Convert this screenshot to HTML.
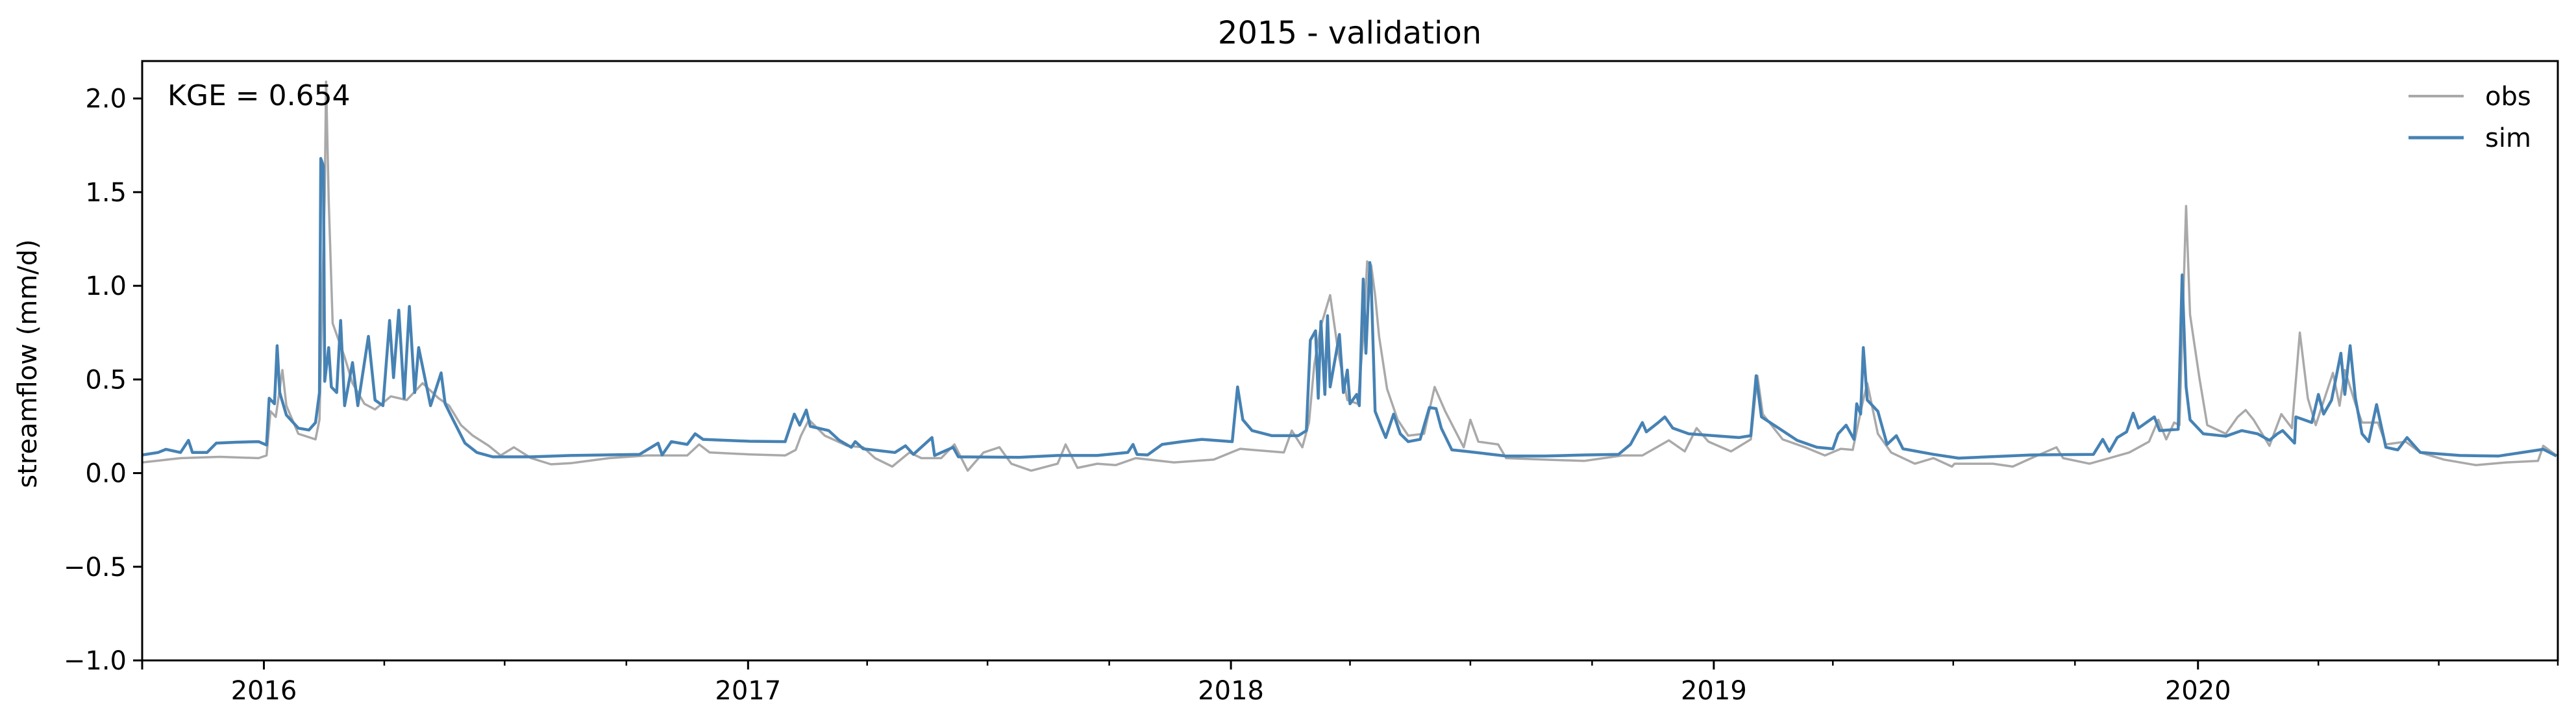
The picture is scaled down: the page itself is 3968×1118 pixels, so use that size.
<!DOCTYPE html>
<html><head><meta charset="utf-8"><style>
html,body{margin:0;padding:0;background:#fff}
svg{display:block}
text{font-family:"DejaVu Sans","Liberation Sans",sans-serif;fill:#000}
</style></head><body>
<svg id="chart" width="3968" height="1118" viewBox="0 0 3968 1118">
<text x="2079" y="67" font-size="48" text-anchor="middle">2015 - validation</text>
<g id="plot"></g>
<g id="axes"></g>
<text x="258" y="162" font-size="44">KGE = 0.654</text>
<g>
<g><line x1="3710" y1="148" x2="3795" y2="148" stroke="#a9a9a9" stroke-width="4"/><text x="3828" y="162" font-size="40">obs</text></g>
<g><line x1="3710" y1="212" x2="3795" y2="212" stroke="#4682b4" stroke-width="5"/><text x="3828" y="226" font-size="40">sim</text></g>
</g>
<text transform="translate(56,560) rotate(-90)" font-size="40" text-anchor="middle">streamflow (mm/d)</text>
</svg>
<script>
// days since 2015-10-01
const obsDays=[0,29,59,88,94,97,101,106,109,118,131,134,138,139,141,144,153,159,168,176,188,200,212,224,232,241,250,262,271,281,294,309,324,353,382,412,421,429,459,486,494,498,504,516,533,545,554,567,580,589,604,614,624,636,648,657,672,692,698,707,722,736,751,780,810,830,839,863,869,877,882,886,891,898,904,911,919,923,926,929,932,935,941,949,957,969,977,985,999,1004,1010,1025,1031,1060,1090,1119,1134,1154,1166,1175,1184,1201,1216,1221,1225,1240,1257,1272,1284,1293,1300,1304,1312,1322,1340,1354,1368,1370,1399,1414,1428,1447,1452,1472,1487,1502,1517,1524,1530,1536,1540,1545,1548,1555,1561,1575,1584,1590,1596,1608,1617,1625,1631,1637,1643,1656,1661,1665,1673,1678,1690,1696,1711,1722,1740,1764,1787,1811,1815,1825];
const obsVals=[0.057,0.08,0.087,0.08,0.094,0.33,0.30,0.55,0.36,0.21,0.18,0.285,1.49,2.09,1.46,0.80,0.62,0.48,0.37,0.34,0.41,0.39,0.48,0.40,0.36,0.256,0.20,0.146,0.094,0.138,0.08,0.047,0.053,0.08,0.094,0.094,0.153,0.11,0.10,0.094,0.124,0.20,0.285,0.20,0.146,0.138,0.08,0.035,0.11,0.08,0.08,0.153,0.013,0.11,0.138,0.05,0.013,0.05,0.153,0.028,0.05,0.043,0.08,0.057,0.072,0.13,0.124,0.11,0.227,0.138,0.27,0.58,0.786,0.95,0.65,0.39,0.37,0.73,1.13,1.11,0.95,0.73,0.45,0.285,0.20,0.21,0.46,0.33,0.138,0.285,0.168,0.153,0.08,0.072,0.065,0.094,0.094,0.175,0.116,0.24,0.168,0.116,0.18,0.52,0.315,0.18,0.138,0.094,0.13,0.124,0.36,0.48,0.21,0.11,0.05,0.08,0.035,0.05,0.05,0.035,0.08,0.138,0.08,0.05,0.08,0.11,0.168,0.285,0.18,0.27,0.256,1.426,0.845,0.51,0.256,0.21,0.30,0.337,0.285,0.146,0.315,0.24,0.75,0.40,0.256,0.535,0.36,0.55,0.37,0.27,0.27,0.153,0.168,0.11,0.072,0.043,0.057,0.065,0.146,0.094];
const simDays=[0,12,18,29,35,38,49,56,71,88,94,96,100,102,104,109,118,126,131,134,135,137,138,141,143,147,150,153,159,163,171,176,182,187,190,194,198,202,206,209,218,226,229,235,244,253,265,294,324,376,390,393,400,412,418,424,459,486,493,497,502,505,519,527,536,539,545,569,577,583,597,599,613,617,663,692,722,745,749,752,760,771,786,801,824,828,832,839,854,874,880,883,887,889,891,894,896,898,905,908,911,913,918,920,923,925,928,929,932,937,940,946,951,957,966,973,978,982,990,1001,1031,1060,1090,1116,1125,1134,1137,1146,1151,1157,1169,1178,1207,1216,1220,1224,1237,1251,1266,1278,1282,1288,1294,1296,1299,1301,1304,1312,1319,1326,1331,1354,1373,1428,1475,1482,1487,1493,1500,1505,1509,1521,1525,1539,1542,1545,1548,1558,1575,1587,1599,1608,1614,1618,1627,1628,1640,1645,1649,1655,1662,1665,1669,1673,1678,1683,1689,1696,1705,1712,1722,1752,1781,1815,1825];
const simVals=[0.097,0.11,0.127,0.11,0.175,0.11,0.11,0.16,0.165,0.168,0.15,0.40,0.37,0.68,0.43,0.31,0.24,0.23,0.27,0.43,1.68,1.64,0.49,0.67,0.46,0.43,0.815,0.36,0.59,0.36,0.73,0.39,0.36,0.815,0.51,0.87,0.40,0.89,0.43,0.67,0.36,0.535,0.37,0.285,0.16,0.11,0.087,0.087,0.094,0.10,0.16,0.097,0.168,0.153,0.21,0.18,0.17,0.168,0.315,0.256,0.337,0.25,0.227,0.175,0.138,0.168,0.13,0.11,0.146,0.10,0.19,0.094,0.138,0.087,0.084,0.094,0.094,0.11,0.153,0.10,0.097,0.153,0.168,0.18,0.168,0.46,0.285,0.227,0.20,0.20,0.227,0.71,0.76,0.40,0.81,0.42,0.84,0.46,0.74,0.43,0.55,0.37,0.42,0.36,1.036,0.64,1.124,1.02,0.33,0.24,0.19,0.315,0.21,0.168,0.18,0.35,0.345,0.24,0.124,0.116,0.091,0.091,0.097,0.10,0.153,0.27,0.22,0.27,0.30,0.24,0.21,0.205,0.19,0.20,0.52,0.30,0.24,0.175,0.138,0.13,0.21,0.256,0.18,0.37,0.315,0.67,0.39,0.33,0.153,0.20,0.13,0.10,0.08,0.097,0.10,0.18,0.116,0.19,0.22,0.32,0.24,0.30,0.227,0.234,1.058,0.46,0.285,0.21,0.197,0.227,0.21,0.175,0.21,0.227,0.16,0.30,0.27,0.42,0.315,0.39,0.64,0.42,0.68,0.40,0.21,0.168,0.366,0.138,0.124,0.19,0.11,0.094,0.091,0.127,0.091];
const yTicks=[-1.0,-0.5,0.0,0.5,1.0,1.5,2.0];
const yTickLabels=["\u22121.0","\u22120.5","0.0","0.5","1.0","1.5","2.0"];
const xMajorDays=[92,458,823,1188,1554];
const xMajorLabels=["2016","2017","2018","2019","2020"];
const xMinorDays=[183,274,366,548,639,731,913,1004,1096,1278,1369,1461,1645,1736,1826];

const L=219,R=3940,T=94,B=1017,D0=0,D1=1826,Y0=-1,Y1=2.2;
const xs=d=>L+(d-D0)/(D1-D0)*(R-L);
const ys=v=>B-(v-Y0)/(Y1-Y0)*(B-T);
const NS="http://www.w3.org/2000/svg";
const plot=document.getElementById('plot'),axes=document.getElementById('axes');
function mk(tag,at,parent){const e=document.createElementNS(NS,tag);for(const k in at)e.setAttribute(k,at[k]);parent.appendChild(e);return e;}
function series(days,vals,color,w,name){
  const pts=days.map((d,i)=>xs(d).toFixed(1)+','+ys(vals[i]).toFixed(1)).join(' ');
  const p=mk('polyline',{points:pts,fill:'none',stroke:color,'stroke-width':w,'stroke-linejoin':'round'},plot);
  
  
}
series(obsDays,obsVals,'#a9a9a9',3.5,'obs-line');
series(simDays,simVals,'#4682b4',4.5,'sim-line');
const frame=mk('rect',{x:L,y:T,width:R-L,height:B-T,fill:'none',stroke:'#000','stroke-width':3},axes);


yTicks.forEach((v,i)=>{
  const y=ys(v);
  const t=mk('line',{x1:L-14,x2:L,y1:y,y2:y,stroke:'#000','stroke-width':3},axes);
  
  
  const tx=mk('text',{x:L-24,y:y+14,'font-size':40,'text-anchor':'end'},axes);
  tx.textContent=yTickLabels[i];
  
  
});
xMajorDays.forEach((d,i)=>{
  const x=xs(d);
  const t=mk('line',{x1:x,x2:x,y1:B,y2:B+14,stroke:'#000','stroke-width':3},axes);
  
  
  const tx=mk('text',{x:x,y:B+60,'font-size':40,'text-anchor':'middle'},axes);
  tx.textContent=xMajorLabels[i];
  
  
});
xMinorDays.forEach(d=>{
  const x=xs(d);
  const t=mk('line',{x1:x,x2:x,y1:B,y2:B+8,stroke:'#000','stroke-width':2.5},axes);
  
  
});
mk('line',{x1:L,x2:L,y1:B,y2:B+14,stroke:'#000','stroke-width':3},axes);
</script>
</body></html>
